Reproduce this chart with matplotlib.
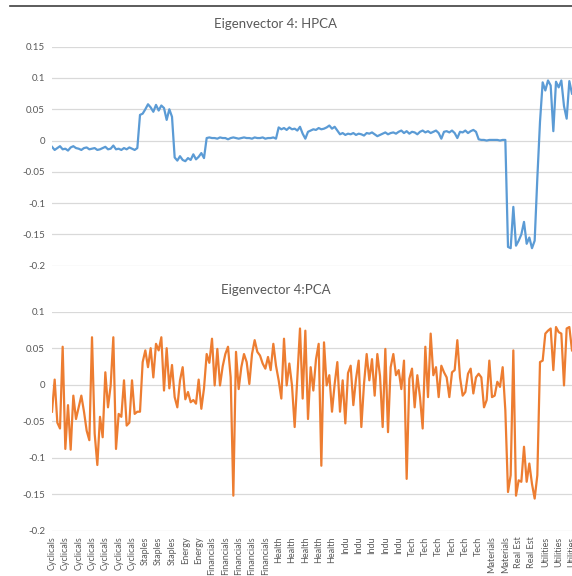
import numpy as np
import matplotlib
matplotlib.use("Agg")
import matplotlib.pyplot as plt
from matplotlib.lines import Line2D

plt.rcParams['font.family'] = ['Lato', 'DejaVu Sans']

# category label shown every 5th stock
tick_labels = ['Cyclicals', 'Cyclicals', 'Cyclicals', 'Cyclicals', 'Cyclicals', 'Cyclicals', 'Cyclicals',
               'Staples', 'Staples', 'Staples', 'Energy', 'Energy',
               'Financials', 'Financials', 'Financials', 'Financials', 'Financials',
               'Health', 'Health', 'Health', 'Health', 'Health',
               'Indu', 'Indu', 'Indu', 'Indu', 'Indu',
               'Tech', 'Tech', 'Tech', 'Tech', 'Tech', 'Tech',
               'Materials', 'Materials', 'Real Est', 'Real Est',
               'Utilities', 'Utilities', 'Utilities']

hpca = [-0.010, -0.015, -0.012, -0.009, -0.014, -0.013, -0.016, -0.011, -0.009, -0.012,
        -0.013, -0.015, -0.012, -0.011, -0.014, -0.013, -0.012, -0.015, -0.014, -0.012,
        -0.010, -0.014, -0.013, -0.008, -0.014, -0.013, -0.015, -0.012, -0.014, -0.011,
        -0.013, -0.015, -0.012,
        0.041, 0.043, 0.050, 0.058, 0.053, 0.046, 0.057, 0.048, 0.056, 0.052, 0.033, 0.050, 0.038,
        -0.027, -0.032, -0.025, -0.031, -0.033, -0.028, -0.031, -0.022, -0.030, -0.026, -0.020, -0.028,
        0.004, 0.005, 0.004, 0.004, 0.003, 0.005, 0.004, 0.004, 0.002, 0.004,
        0.005, 0.004, 0.003, 0.004, 0.005, 0.004, 0.004, 0.003, 0.005, 0.004,
        0.004, 0.005, 0.003, 0.004, 0.004, 0.005, 0.003,
        0.021, 0.018, 0.020, 0.017, 0.021, 0.018, 0.019, 0.016, 0.022, 0.011,
        0.003, 0.014, 0.016, 0.018, 0.017, 0.020, 0.018, 0.019, 0.021, 0.024,
        0.019, 0.022, 0.016,
        0.010, 0.012, 0.009, 0.011, 0.010, 0.012, 0.009, 0.011, 0.010, 0.008,
        0.012, 0.011, 0.013, 0.010, 0.007, 0.009, 0.011, 0.013, 0.010, 0.012,
        0.013, 0.011, 0.014, 0.016, 0.012, 0.015, 0.011, 0.014, 0.013, 0.010,
        0.014, 0.016, 0.013, 0.015, 0.012, 0.014, 0.016, 0.012, 0.003, 0.014,
        0.015, 0.013, 0.016, 0.012, 0.004, 0.014, 0.013, 0.016, 0.012, 0.015,
        0.017, 0.014,
        0.002, 0.001, 0.001, 0.000, 0.001, 0.001, 0.001, 0.001, 0.000, 0.001, 0.001,
        -0.170, -0.172, -0.106, -0.168, -0.160, -0.150, -0.130, -0.165, -0.155, -0.172,
        -0.160, -0.060, 0.030,
        0.093, 0.080, 0.096, 0.088, 0.015, 0.094, 0.085, 0.096, 0.055, 0.035, 0.095, 0.075]

pca = [-0.037, 0.007, -0.052, -0.060, 0.052, -0.088, -0.028, -0.089, -0.015, -0.047,
       -0.031, -0.015, -0.037, -0.063, -0.076, 0.065, -0.067, -0.110, -0.044, -0.072,
       0.017, -0.031, -0.001, 0.065, -0.088, -0.040, -0.044, 0.006, -0.056, -0.052,
       0.006, -0.040, -0.037, -0.037, 0.031, 0.047, 0.024, 0.050, 0.010, 0.056,
       0.047, 0.065, -0.008, 0.050, -0.005, 0.027, -0.017, -0.031,
       0.006, 0.024, -0.020, -0.010, -0.024, -0.021, -0.026, 0.007, -0.033, -0.005,
       0.042, 0.030, 0.063, -0.001, 0.049, -0.001, 0.025, 0.042, 0.052, 0.010,
       -0.152, 0.045, -0.006, 0.024, 0.042, 0.031, 0.001, 0.042, 0.061, 0.045,
       0.040, 0.029, 0.022, 0.038, 0.020, 0.056, 0.026, 0.006, -0.019, 0.063,
       -0.001, 0.029, -0.001, -0.058, 0.010, 0.077, -0.019, 0.074, -0.047,
       0.024, -0.008, 0.035, 0.056, -0.111, 0.058, -0.001, 0.013, -0.037, 0.001,
       0.031, -0.037, 0.006, -0.053, 0.016, 0.026, -0.028, 0.008, 0.033, -0.058,
       0.001, 0.042, 0.006, 0.035, -0.015, 0.042, 0.012, -0.058, 0.049, -0.065,
       0.024, 0.042, 0.013, 0.020, -0.006, 0.033, -0.129, 0.008, 0.022, -0.031,
       0.013, -0.017, -0.060, 0.052, -0.017, 0.070, 0.013, 0.024, -0.017,
       0.026, 0.017, 0.010, -0.017, 0.017, 0.020, 0.061, 0.010, -0.015, -0.010,
       0.015, 0.022, -0.012, 0.010, 0.015, 0.010, -0.031, -0.021, 0.033, -0.017,
       -0.015, 0.004, -0.003, 0.024, -0.035, -0.147, -0.124, 0.047, -0.152, -0.131,
       -0.133, -0.085, -0.133, -0.108, -0.136, -0.156, -0.124, 0.031, 0.033, 0.070,
       0.074, 0.077, 0.020, 0.079, 0.072, 0.070, -0.001, 0.077, 0.079, 0.047]

W, H = 572, 576
text_col = '#595959'
grid_col = '#d9d9d9'

fig = plt.figure(figsize=(W / 100, H / 100), dpi=100)
fig.patch.set_facecolor('white')

ax1 = fig.add_axes([52 / W, 1 - 265.7 / H, 520 / W, 219 / H])
ax2 = fig.add_axes([52 / W, 1 - 530.7 / H, 520 / W, 219 / H])

x = np.arange(len(pca))

ax1.plot(x, hpca, color='#5B9BD5', lw=1.6)
ax2.plot(x, pca, color='#ED7D31', lw=1.6)

ax1.set_ylim(-0.2, 0.15)
ax1.set_yticks([-0.2, -0.15, -0.1, -0.05, 0, 0.05, 0.1, 0.15])
ax1.set_yticklabels(['-0.2', '-0.15', '-0.1', '-0.05', '0', '0.05', '0.1', '0.15'])
ax2.set_ylim(-0.2, 0.1)
ax2.set_yticks([-0.2, -0.15, -0.1, -0.05, 0, 0.05, 0.1])
ax2.set_yticklabels(['-0.2', '-0.15', '-0.1', '-0.05', '0', '0.05', '0.1'])

for ax in (ax1, ax2):
    ax.set_xlim(0, len(pca) - 1)
    for s in ax.spines.values():
        s.set_visible(False)
    ax.grid(axis='y', color=grid_col, lw=0.9)
    ax.set_axisbelow(True)
    ax.tick_params(axis='y', length=0, labelsize=7, labelcolor=text_col, pad=5)
    ax.tick_params(axis='x', length=0)

ax1.set_xticks([])
ax2.set_xticks(np.arange(0, len(pca), 5))
ax2.set_xticklabels(tick_labels, rotation=90, fontsize=6.5, color=text_col)
ax2.tick_params(axis='x', pad=4)

fig.text(276 / W, 1 - 24.3 / H, 'Eigenvector 4: HPCA', ha='center', va='center',
         fontsize=9.5, color=text_col)
fig.text(276 / W, 1 - 289.5 / H, 'Eigenvector 4:PCA', ha='center', va='center',
         fontsize=9.5, color=text_col)

# border line at the top of the screenshot
fig.add_artist(Line2D([10 / W, 1], [1 - 6 / H, 1 - 6 / H], color='#404040', lw=1.2))

fig.savefig('out.png', dpi=100)
